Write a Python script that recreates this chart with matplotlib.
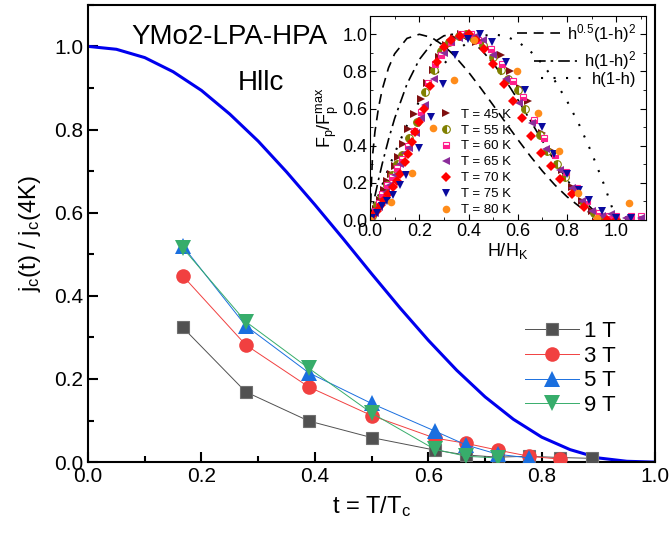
import numpy as np
import matplotlib.pyplot as plt
from matplotlib.ticker import MultipleLocator

plt.rcParams['font.family'] = ['Liberation Sans', 'DejaVu Sans']
plt.rcParams['mathtext.default'] = 'regular'

# ---- main panel data ----
t_pts = [0.167, 0.278, 0.389, 0.5, 0.611, 0.667, 0.722, 0.778, 0.833, 0.889]
jc_1T = [0.324, 0.169, 0.099, 0.059, 0.029, 0.017, 0.012, 0.014, 0.011, 0.009]
jc_3T = [0.448, 0.282, 0.181, 0.112, 0.058, 0.045, 0.029, 0.014, 0.007]
jc_5T = [0.520, 0.328, 0.215, 0.141, 0.075, 0.041, 0.019, 0.010]
jc_9T = [0.515, 0.338, 0.226, 0.118, 0.031, 0.014, 0.010]

t_curve = [0, 0.05, 0.1, 0.15, 0.2, 0.25, 0.3, 0.35, 0.4, 0.45, 0.5, 0.55,
           0.6, 0.65, 0.7, 0.75, 0.8, 0.85, 0.9, 0.95, 1.0]
jc_curve = [1.0, 0.993, 0.973, 0.939, 0.894, 0.837, 0.772, 0.698, 0.619, 0.537,
            0.453, 0.371, 0.293, 0.221, 0.157, 0.103, 0.060, 0.030, 0.010, 0.002, 0.0]

# ---- inset data ----
h_th = [0, 0.01, 0.02, 0.035, 0.05, 0.075, 0.1, 0.15, 0.2, 0.25, 0.3, 0.333, 0.35,
        0.4, 0.45, 0.5, 0.55, 0.6, 0.65, 0.7, 0.75, 0.8, 0.85, 0.9, 0.95, 1.0]
f_sqrt = [0, 0.342, 0.475, 0.609, 0.705, 0.819, 0.895, 0.978, 1.0, 0.983, 0.938, 0.897,
          0.873, 0.796, 0.709, 0.618, 0.525, 0.433, 0.345, 0.263, 0.189, 0.125,
          0.0725, 0.0331, 0.0085, 0]
f_h1h2 = [0, 0.066, 0.130, 0.220, 0.305, 0.433, 0.547, 0.732, 0.864, 0.949, 0.992, 1.0,
          0.998, 0.972, 0.919, 0.844, 0.752, 0.648, 0.537, 0.425, 0.316, 0.216,
          0.129, 0.061, 0.016, 0]
f_h1h = [0, 0.040, 0.078, 0.135, 0.19, 0.278, 0.36, 0.51, 0.64, 0.75, 0.84, 0.889,
         0.91, 0.96, 0.99, 1.0, 0.99, 0.96, 0.91, 0.84, 0.75, 0.64, 0.51, 0.36, 0.19, 0]

h45 = [0.01, 0.025, 0.04, 0.055, 0.07, 0.085, 0.10, 0.115, 0.135, 0.155, 0.18, 0.205, 0.23,
       0.255, 0.28, 0.31, 0.34, 0.37, 0.40, 0.43, 0.47, 0.53, 0.57, 0.61, 0.64, 0.70,
       0.74, 0.78, 0.82, 0.86, 0.90, 0.95, 1.0, 1.05]
v45 = [0.02, 0.06, 0.11, 0.16, 0.21, 0.25, 0.29, 0.34, 0.41, 0.49, 0.57, 0.65, 0.74,
       0.81, 0.88, 0.94, 0.98, 1.0, 0.99, 0.96, 0.93, 0.89, 0.80, 0.71, 0.64, 0.47,
       0.37, 0.27, 0.18, 0.10, 0.05, 0.02, 0.01, 0.0]
h55 = [0.01, 0.03, 0.05, 0.07, 0.09, 0.11, 0.13, 0.16, 0.19, 0.225, 0.26, 0.29, 0.32,
       0.36, 0.39, 0.42, 0.46, 0.50, 0.53, 0.56, 0.60, 0.63, 0.69, 0.72, 0.76, 0.79,
       0.83, 0.87, 0.91, 0.95, 1.0]
v55 = [0.02, 0.08, 0.13, 0.19, 0.24, 0.30, 0.35, 0.44, 0.53, 0.69, 0.81, 0.91, 0.96,
       0.99, 1.0, 0.98, 0.94, 0.88, 0.81, 0.76, 0.70, 0.60, 0.46, 0.37, 0.30, 0.23,
       0.16, 0.09, 0.04, 0.01, 0.0]
h60 = [0.005, 0.02, 0.035, 0.05, 0.07, 0.09, 0.11, 0.13, 0.155, 0.18, 0.205, 0.235, 0.265,
       0.29, 0.33, 0.37, 0.41, 0.44, 0.49, 0.535, 0.58, 0.62, 0.667, 0.706, 0.75, 0.795,
       0.84, 0.88, 0.93, 0.97, 1.0, 1.06, 1.10]
v60 = [0.01, 0.05, 0.09, 0.14, 0.19, 0.23, 0.28, 0.33, 0.40, 0.48, 0.58, 0.74, 0.84,
       0.89, 0.96, 1.0, 1.0, 0.97, 0.92, 0.84, 0.75, 0.66, 0.54, 0.44, 0.35, 0.26,
       0.17, 0.10, 0.04, 0.02, 0.02, 0.02, 0.02]
h65 = [0.005, 0.02, 0.035, 0.05, 0.065, 0.08, 0.10, 0.12, 0.14, 0.16, 0.185, 0.205, 0.225,
       0.26, 0.30, 0.33, 0.36, 0.39, 0.43, 0.46, 0.50, 0.55, 0.606, 0.657, 0.716, 0.773,
       0.82, 0.86, 0.90, 0.94, 0.98, 1.04, 1.10]
v65 = [0.01, 0.04, 0.07, 0.11, 0.15, 0.19, 0.24, 0.30, 0.36, 0.39, 0.47, 0.55, 0.62,
       0.76, 0.90, 0.96, 0.98, 1.0, 0.99, 0.97, 0.89, 0.76, 0.63, 0.525, 0.38, 0.27,
       0.17, 0.10, 0.05, 0.02, 0.03, 0.01, 0.01]
h70 = [0.007, 0.027, 0.045, 0.058, 0.075, 0.093, 0.108, 0.122, 0.14, 0.155, 0.17, 0.183,
       0.20, 0.22, 0.245, 0.271, 0.30, 0.33, 0.365, 0.40, 0.43, 0.464, 0.50, 0.542, 0.58,
       0.617, 0.655, 0.694, 0.735, 0.772, 0.82, 0.87, 0.92, 0.96, 1.0]
v70 = [0.02, 0.046, 0.08, 0.108, 0.14, 0.18, 0.21, 0.25, 0.31, 0.358, 0.42, 0.475,
       0.53, 0.60, 0.72, 0.85, 0.93, 0.97, 0.99, 1.0, 0.97, 0.92, 0.84, 0.733, 0.64,
       0.547, 0.45, 0.359, 0.29, 0.223, 0.14, 0.07, 0.0, 0.0, 0.0]
h75 = [0.01, 0.03, 0.048, 0.068, 0.095, 0.12, 0.147, 0.197, 0.248, 0.298, 0.346, 0.396,
       0.447, 0.497, 0.55, 0.63, 0.70, 0.745, 0.80, 0.85, 0.887, 0.94, 1.0, 1.06]
v75 = [0.01, 0.04, 0.073, 0.10, 0.134, 0.19, 0.242, 0.387, 0.554, 0.735, 0.887, 0.977,
       1.0, 0.96, 0.85, 0.70, 0.50, 0.358, 0.25, 0.16, 0.107, 0.05, 0.01, 0.01]
h80 = [0.0, 0.085, 0.17, 0.256, 0.339, 0.423, 0.596, 0.68, 0.765, 0.845, 0.92, 1.05]
v80 = [0.0, 0.095, 0.254, 0.493, 0.753, 0.968, 0.80, 0.577, 0.369, 0.147, 0.01, 0.093]

fig = plt.figure(figsize=(6.72, 5.33), dpi=100)
ax = fig.add_axes([0.131, 0.133, 0.844, 0.858])

ax.plot(t_curve, jc_curve, color='#0000ee', lw=2.2, zorder=2)

ax.plot(t_pts[:len(jc_1T)], jc_1T, '-s', color='#515151', lw=0.7, ms=9, mec='#707070', mew=0.8, label='1 T', zorder=3)
ax.plot(t_pts[:len(jc_3T)], jc_3T, '-o', color='#F14040', lw=0.7, ms=10.5, mew=0, label='3 T', zorder=3)
ax.plot(t_pts[:len(jc_5T)], jc_5T, '-^', color='#1A6FDF', lw=0.7, ms=11, mew=0, label='5 T', zorder=3)
ax.plot(t_pts[:len(jc_9T)], jc_9T, '-v', color='#37AD6B', lw=0.7, ms=11, mew=0, label='9 T', zorder=3)

ax.set_xlim(0, 1.0)
ax.set_ylim(0, 1.1)
ax.xaxis.set_major_locator(MultipleLocator(0.2))
ax.xaxis.set_minor_locator(MultipleLocator(0.1))
ax.yaxis.set_major_locator(MultipleLocator(0.2))
ax.yaxis.set_minor_locator(MultipleLocator(0.1))
ax.tick_params(which='both', direction='in', labelsize=15, width=1.5)
ax.tick_params(which='major', length=7)
ax.tick_params(which='minor', length=4)
for s in ax.spines.values():
    s.set_linewidth(1.5)
ax.set_xlabel('t = T/T$_c$', fontsize=17, labelpad=6)
ax.set_ylabel('j$_c$(t) / j$_c$(4K)', fontsize=17, labelpad=8)

ax.text(0.25, 0.93, 'YMo2-LPA-HPA', transform=ax.transAxes, fontsize=20, ha='center', va='center')
ax.text(0.305, 0.83, 'Hllc', transform=ax.transAxes, fontsize=20, ha='center', va='center')

ax.legend(loc='upper left', bbox_to_anchor=(0.771, 0.308), frameon=False, fontsize=16,
          handlelength=2.4, labelspacing=0.16, handletextpad=0.25, borderpad=0,
          borderaxespad=0)

# ---- inset ----
ins = fig.add_axes([0.5506, 0.5872, 0.4107, 0.3833])
ins.plot(h_th, f_sqrt, color='black', lw=1.2, ls=(0, (6, 4)), label='h$^{0.5}$(1-h)$^2$')
ins.plot(h_th, f_h1h2, color='black', lw=1.2, ls=(0, (7, 3, 1.5, 3)), label='h(1-h)$^2$')
ins.plot(h_th, f_h1h, color='black', lw=1.5, ls=(0, (1, 5)), label='h(1-h)')

ms = 5.5
s45, = ins.plot(h45, v45, '>', color='#7F1010', ms=ms, mew=0, label='T = 45 K')
s55, = ins.plot(h55, v55, 'o', color='#808000', ms=ms, mew=0.8, fillstyle='left',
                markerfacecoloralt='white', label='T = 55 K')
s60, = ins.plot(h60, v60, 's', color='#FF1E8C', ms=ms - 0.5, mew=0.8, fillstyle='bottom',
                markerfacecoloralt='white', label='T = 60 K')
s65, = ins.plot(h65, v65, '<', color='#8B2C9A', ms=ms, mew=0, label='T = 65 K')
s70, = ins.plot(h70, v70, 'D', color='#FF0000', ms=ms - 0.8, mew=0, label='T = 70 K')
s75, = ins.plot(h75, v75, 'v', color='#0A0A9E', ms=ms, mew=0, label='T = 75 K')
s80, = ins.plot(h80, v80, 'o', color='#FF8C1A', ms=ms, mew=0, label='T = 80 K')

ins.set_xlim(0, 1.12)
ins.set_ylim(0, 1.1)
for a in (ins.xaxis, ins.yaxis):
    a.set_major_locator(MultipleLocator(0.2))
    a.set_minor_locator(MultipleLocator(0.1))
ins.tick_params(which='both', direction='in', top=True, right=True, labelsize=13, pad=2)
ins.tick_params(which='major', length=4)
ins.tick_params(which='minor', length=2)
ins.set_xlabel('H/H$_K$', fontsize=13, labelpad=1)
ins.set_ylabel('F$_p$/F$_p^{max}$', fontsize=13, labelpad=1)

lines = ins.get_lines()
for i, yy in enumerate([1.02, 0.885, 0.775]):
    lg = ins.legend(handles=[lines[i]], loc='upper right', bbox_to_anchor=(1.0, yy),
                    frameon=False, fontsize=12, handlelength=2.6, borderpad=0.1,
                    handletextpad=0.4)
    ins.add_artist(lg)

ins.legend(handles=[s45, s55, s60, s65, s70, s75, s80], loc='lower left',
           bbox_to_anchor=(0.223, -0.02), frameon=False, fontsize=9.5, handlelength=1.0,
           labelspacing=0.28, handletextpad=0.6, borderpad=0.1)

fig.savefig('out.png', dpi=100)
